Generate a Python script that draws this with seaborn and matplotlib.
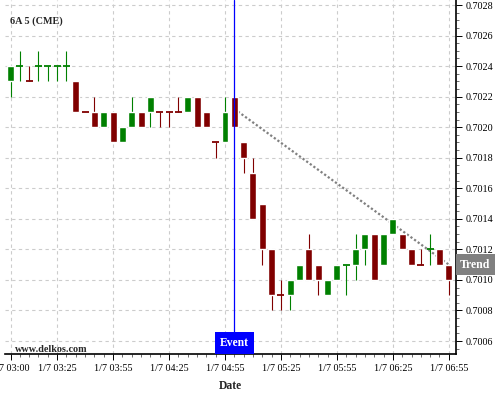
import numpy as np
import pandas as pd
import seaborn as sns
import matplotlib
matplotlib.use('Agg')
import matplotlib.pyplot as plt
from matplotlib.ticker import MultipleLocator, FormatStrFormatter

# 5-minute bars of 6A (CME), 1/7 03:00 - 06:55
opens = [0.7023, 0.7024, 0.7023, 0.7024, 0.7024, 0.7024, 0.7024, 0.7023, 0.7021, 0.7021,
         0.7020, 0.7021, 0.7019, 0.7020, 0.7021, 0.7021, 0.7021, 0.7021, 0.7021, 0.7021,
         0.7022, 0.7021, 0.7019, 0.7019, 0.7022, 0.7019, 0.7017, 0.7015, 0.7012, 0.7009,
         0.7009, 0.7010, 0.7012, 0.7011, 0.7009, 0.7010, 0.7011, 0.7011, 0.7012, 0.7013,
         0.7011, 0.7013, 0.7013, 0.7012, 0.7011, 0.7012, 0.7012, 0.7011]
highs = [0.7024, 0.7025, 0.7024, 0.7025, 0.7024, 0.7024, 0.7025, 0.7023, 0.7021, 0.7022,
         0.7021, 0.7021, 0.7020, 0.7022, 0.7021, 0.7022, 0.7021, 0.7021, 0.7022, 0.7022,
         0.7022, 0.7021, 0.7019, 0.7022, 0.7022, 0.7019, 0.7018, 0.7015, 0.7012, 0.7010,
         0.7010, 0.7011, 0.7013, 0.7011, 0.7010, 0.7011, 0.7011, 0.7013, 0.7013, 0.7013,
         0.7013, 0.7014, 0.7013, 0.7012, 0.7012, 0.7013, 0.7012, 0.7011]
lows = [0.7022, 0.7023, 0.7023, 0.7023, 0.7023, 0.7023, 0.7023, 0.7021, 0.7021, 0.7020,
        0.7020, 0.7019, 0.7019, 0.7020, 0.7020, 0.7020, 0.7020, 0.7020, 0.7021, 0.7021,
        0.7020, 0.7020, 0.7018, 0.7019, 0.7020, 0.7017, 0.7014, 0.7011, 0.7008, 0.7008,
        0.7008, 0.7010, 0.7010, 0.7009, 0.7009, 0.7010, 0.7009, 0.7010, 0.7011, 0.7010,
        0.7011, 0.7013, 0.7012, 0.7011, 0.7011, 0.7011, 0.7011, 0.7009]
closes = [0.7024, 0.7024, 0.7023, 0.7024, 0.7024, 0.7024, 0.7024, 0.7021, 0.7021, 0.7020,
          0.7021, 0.7019, 0.7020, 0.7021, 0.7020, 0.7022, 0.7021, 0.7021, 0.7021, 0.7022,
          0.7020, 0.7020, 0.7019, 0.7021, 0.7020, 0.7018, 0.7014, 0.7012, 0.7009, 0.7009,
          0.7010, 0.7011, 0.7010, 0.7010, 0.7010, 0.7011, 0.7011, 0.7012, 0.7013, 0.7010,
          0.7013, 0.7014, 0.7012, 0.7011, 0.7011, 0.7012, 0.7011, 0.7010]
# 1 = up bar (green), 0 = down bar (red)
up = [1, 1, 0, 1, 1, 1, 1, 0, 0, 0, 1, 0, 1, 1, 0, 1, 0, 0, 0, 1, 0, 0, 0, 1,
      0, 0, 0, 0, 0, 0, 1, 1, 0, 0, 1, 1, 1, 1, 1, 0, 1, 1, 0, 0, 0, 1, 0, 0]

tick_pos = [0, 5, 11, 17, 23, 29, 35, 41, 47]
tick_labels = ['1/7 03:00', '1/7 03:25', '1/7 03:55', '1/7 04:25', '1/7 04:55',
               '1/7 05:25', '1/7 05:55', '1/7 06:25', '1/7 06:55']
event_bar = 24
trend_bars = [24, 47]
trend_vals = [0.70212, 0.70110]

df = pd.DataFrame({'bar': np.arange(len(opens)), 'open': opens, 'high': highs,
                   'low': lows, 'close': closes, 'up': up})
df['bottom'] = df[['open', 'close']].min(axis=1)
df['height'] = (df['close'] - df['open']).abs()
df['color'] = np.where(df['up'] == 1, '#008000', '#800000')

sns.set_style('white')
plt.rcParams['font.family'] = ['Liberation Serif', 'DejaVu Serif']

fig = plt.figure(figsize=(5, 4), dpi=100)
ax = fig.add_axes([0.01, 0.115, 0.902, 0.885])

# trend line (behind the candles)
trend = pd.DataFrame({'bar': trend_bars, 'val': trend_vals})
sns.lineplot(data=trend, x='bar', y='val', ax=ax, color='#808080', lw=1.6,
             dashes=False, zorder=2)
ax.lines[-1].set_dashes((1, 1))

# wicks
ax.vlines(df['bar'], df['low'], df['high'], colors=df['color'], lw=0.8, zorder=3)
# bodies
body = df[df['height'] > 0]
ax.bar(body['bar'], body['height'], bottom=body['bottom'], width=0.75,
       color=body['color'], zorder=4)
doji = df[df['height'] == 0]
ax.hlines(doji['close'], doji['bar'] - 0.375, doji['bar'] + 0.375,
          colors=doji['color'], lw=1.3, zorder=4)

# event marker
ax.axvline(event_bar, color='#0000ff', lw=0.9, zorder=5)
ax.annotate('Event', xy=(event_bar, 0), xycoords=ax.get_xaxis_transform(),
            xytext=(0, 11), textcoords='offset pixels', ha='center', va='center',
            color='white', fontsize=8.4, fontweight='bold', zorder=6,
            bbox=dict(boxstyle='square,pad=0.42', fc='#0000ff', ec='none'))
ax.annotate('Trend', xy=(1, trend_vals[-1]), xycoords=ax.get_yaxis_transform(),
            xytext=(4, 0), textcoords='offset pixels', ha='left', va='center',
            color='white', fontsize=8.5, fontweight='bold', annotation_clip=False,
            bbox=dict(boxstyle='square,pad=0.38', fc='#808080', ec='none'), zorder=10)

ax.set_xlim(-0.59, 47.77)
ax.set_ylim(0.700515, 0.702833)

ax.set_xticks(tick_pos)
ax.set_xticklabels(tick_labels)
ax.xaxis.set_minor_locator(MultipleLocator(1))
ax.yaxis.tick_right()
ax.yaxis.set_major_locator(MultipleLocator(0.0002))
ax.yaxis.set_minor_locator(MultipleLocator(0.00005))
ax.yaxis.set_major_formatter(FormatStrFormatter('%.4f'))
ax.tick_params(which='major', direction='out', length=4, width=0.7, colors='black',
               labelsize=7.3, pad=3)
ax.tick_params(which='minor', direction='out', length=2.2, width=0.6, colors='#555555')
ax.tick_params(axis='y', which='both', left=False, right=True)
ax.tick_params(axis='x', which='both', bottom=True, top=False)

for s in ['top', 'left']:
    ax.spines[s].set_visible(False)
for s in ['bottom', 'right']:
    ax.spines[s].set_color('black')
    ax.spines[s].set_linewidth(1.2)

ax.grid(True, which='major', color='#cccccc', linestyle=(0, (3, 3)), lw=0.8)
ax.set_axisbelow(True)

ax.set_xlabel('Date', fontsize=8.4, fontweight='bold', labelpad=5)
ax.set_ylabel('')
ax.text(0.011, 0.9415, '6A 5 (CME)', transform=ax.transAxes, fontsize=7.3,
        fontweight='bold', va='center', ha='left')
ax.text(0.022, 0.014, 'www.delkos.com', transform=ax.transAxes, fontsize=7.3,
        fontweight='bold', va='center', ha='left')

fig.savefig('out.png', dpi=100)
